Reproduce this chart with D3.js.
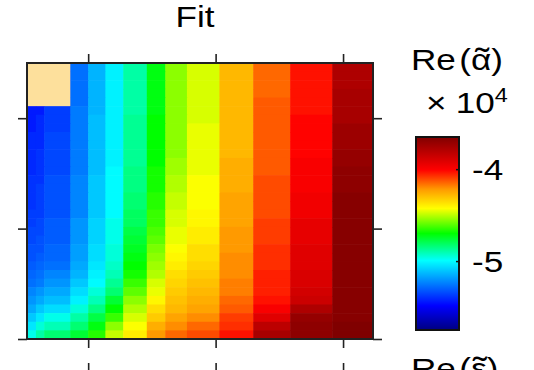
<!DOCTYPE html>
<html>
<head>
<meta charset="utf-8">
<script src="https://cdn.jsdelivr.net/npm/d3@7"></script>
<style>
  body { margin: 0; background: #fff; }
  svg { display: block; font-family: "Liberation Sans", Arial, sans-serif; }
</style>
</head>
<body>
<svg id="chart" width="534" height="370"></svg>
<script>
'use strict';

// x edges of the fit grid (columns are not evenly spaced)
var xEdges = [0.52, 0.59, 0.655, 0.86, 1.0, 1.135, 1.275, 1.46, 1.605, 1.775, 2.03, 2.295, 2.585, 2.915, 3.235];
var yDomain = [1, 3.5];
var xTicks = [1, 2, 3];
var yTicks = [1, 2, 3];

// masked corner (first columns / rows)
var maskCols = 3;
var maskRows = 5;

// colour bar
var cbDomain = [-5.75, -3.65];
var cbTicks = [-5, -4];
var cmapStops = [0, 0.125, 0.36, 0.5, 0.63, 0.73, 0.83, 1];
var cmapColors = ['#000080', '#0000ff', '#00ffff', '#00ff00', '#ffff00', '#ff9900', '#ff0000', '#800000'];

// Re(alpha) x 1e4, rows top -> bottom, one value per column
var rows = [
  [-5.46,-5.46,-5.39,-5.27,-5.14,-5.02,-4.89,-4.72,-4.55,-4.47,-4.28,-4.15,-4.03,-3.78],
  [-5.46,-5.46,-5.39,-5.27,-5.14,-5.02,-4.89,-4.72,-4.55,-4.47,-4.28,-4.15,-4.03,-3.78],
  [-5.46,-5.44,-5.39,-5.27,-5.14,-5.02,-4.89,-4.72,-4.55,-4.47,-4.28,-4.15,-4.03,-3.78],
  [-5.44,-5.44,-5.37,-5.27,-5.14,-5.02,-4.89,-4.72,-4.55,-4.47,-4.28,-4.15,-4.03,-3.76],
  [-5.44,-5.44,-5.37,-5.27,-5.14,-5.02,-4.89,-4.72,-4.55,-4.47,-4.28,-4.13,-4.03,-3.76],
  [-5.44,-5.44,-5.37,-5.25,-5.14,-5.02,-4.89,-4.72,-4.55,-4.47,-4.28,-4.13,-4.03,-3.76],
  [-5.44,-5.41,-5.37,-5.25,-5.12,-5.02,-4.87,-4.70,-4.55,-4.47,-4.28,-4.13,-4.01,-3.76],
  [-5.44,-5.41,-5.37,-5.25,-5.12,-5.02,-4.87,-4.70,-4.55,-4.45,-4.28,-4.13,-4.01,-3.73],
  [-5.41,-5.41,-5.35,-5.25,-5.12,-5.02,-4.87,-4.70,-4.55,-4.45,-4.28,-4.13,-4.01,-3.73],
  [-5.41,-5.41,-5.35,-5.25,-5.12,-5.02,-4.87,-4.70,-4.55,-4.45,-4.28,-4.13,-4.01,-3.73],
  [-5.41,-5.39,-5.35,-5.25,-5.12,-5.02,-4.87,-4.70,-4.55,-4.45,-4.28,-4.13,-4.01,-3.71],
  [-5.41,-5.39,-5.35,-5.25,-5.12,-5.02,-4.87,-4.70,-4.53,-4.45,-4.26,-4.13,-3.99,-3.71],
  [-5.41,-5.39,-5.35,-5.25,-5.12,-5.00,-4.85,-4.68,-4.53,-4.45,-4.26,-4.13,-3.99,-3.69],
  [-5.39,-5.39,-5.33,-5.23,-5.10,-5.00,-4.85,-4.68,-4.51,-4.43,-4.26,-4.11,-3.99,-3.69],
  [-5.39,-5.37,-5.33,-5.23,-5.10,-5.00,-4.85,-4.68,-4.51,-4.43,-4.26,-4.11,-3.99,-3.69],
  [-5.39,-5.37,-5.33,-5.23,-5.10,-5.00,-4.83,-4.66,-4.49,-4.43,-4.24,-4.11,-3.97,-3.67],
  [-5.39,-5.37,-5.33,-5.23,-5.10,-5.00,-4.83,-4.66,-4.49,-4.43,-4.24,-4.11,-3.97,-3.67],
  [-5.37,-5.37,-5.33,-5.23,-5.10,-5.00,-4.81,-4.64,-4.47,-4.41,-4.24,-4.11,-3.97,-3.67],
  [-5.37,-5.35,-5.31,-5.20,-5.08,-4.97,-4.81,-4.64,-4.47,-4.41,-4.24,-4.09,-3.94,-3.67],
  [-5.35,-5.35,-5.31,-5.20,-5.08,-4.97,-4.78,-4.62,-4.45,-4.39,-4.22,-4.09,-3.94,-3.67],
  [-5.35,-5.33,-5.31,-5.20,-5.08,-4.97,-4.76,-4.60,-4.45,-4.39,-4.22,-4.09,-3.94,-3.67],
  [-5.33,-5.33,-5.29,-5.18,-5.06,-4.95,-4.74,-4.57,-4.43,-4.36,-4.22,-4.07,-3.92,-3.67],
  [-5.33,-5.31,-5.29,-5.18,-5.06,-4.95,-4.72,-4.55,-4.41,-4.36,-4.20,-4.07,-3.92,-3.67],
  [-5.31,-5.29,-5.27,-5.16,-5.04,-4.93,-4.70,-4.53,-4.39,-4.34,-4.20,-4.07,-3.92,-3.67],
  [-5.29,-5.27,-5.23,-5.14,-5.02,-4.91,-4.68,-4.51,-4.36,-4.32,-4.20,-4.05,-3.90,-3.67],
  [-5.27,-5.25,-5.20,-5.10,-5.00,-4.87,-4.64,-4.47,-4.34,-4.30,-4.18,-4.05,-3.90,-3.67],
  [-5.23,-5.20,-5.16,-5.06,-4.95,-4.83,-4.60,-4.45,-4.32,-4.28,-4.18,-4.05,-3.88,-3.67],
  [-5.20,-5.16,-5.12,-5.02,-4.91,-4.76,-4.55,-4.41,-4.30,-4.26,-4.15,-4.03,-3.86,-3.67],
  [-5.16,-5.10,-5.06,-4.95,-4.85,-4.70,-4.51,-4.36,-4.28,-4.24,-4.13,-3.99,-3.78,-3.67],
  [-5.10,-5.04,-4.97,-4.89,-4.78,-4.64,-4.47,-4.32,-4.24,-4.20,-4.09,-3.92,-3.71,-3.67],
  [-5.04,-4.95,-4.91,-4.83,-4.72,-4.55,-4.43,-4.26,-4.20,-4.15,-4.07,-3.82,-3.69,-3.65],
  [-4.97,-4.89,-4.83,-4.76,-4.66,-4.49,-4.39,-4.22,-4.15,-4.11,-4.03,-3.76,-3.69,-3.65]
];

var svg = d3.select('#chart');

// plot box
var plot = { left: 27, top: 63, right: 373, bottom: 339 };

var x = d3.scaleLinear().domain([xEdges[0], xEdges[xEdges.length - 1]]).range([plot.left, plot.right]);
var y = d3.scaleLinear().domain(yDomain).range([plot.bottom, plot.top]);
// row index -> data y
var rowY = d3.scaleLinear().domain([0, rows.length]).range([yDomain[1], yDomain[0]]);

var t = d3.scaleLinear().domain(cbDomain).range([0, 1]).clamp(true);
var cmap = d3.scaleLinear().domain(cmapStops).range(cmapColors);
var color = function(v) { return cmap(t(v)); };

// text in the source figure is a bit wider than Liberation Sans
var stretch = 1.17;
function label(px, py, size, str) {
  var g = svg.append('g').attr('transform', 'translate(' + px + ',' + py + ') scale(' + stretch + ',1)');
  var txt = g.append('text').attr('font-size', size).text(str);
  return { g: g, text: txt };
}

// "Re(<sym>)" with a tilde over the symbol
function reLabel(px, py, sym) {
  var lab = label(px, py, 30, 'Re');
  lab.text.append('tspan').attr('dx', 3).text('(' + sym + ')');
  var node = lab.text.node();
  var a = node.getStartPositionOfChar(3).x,
      b = node.getEndPositionOfChar(3).x;
  lab.g.append('text')
    .attr('x', (a + b) / 2 + 1)
    .attr('y', 3)
    .attr('text-anchor', 'middle')
    .attr('font-size', 36)
    .text('\u02DC');
  return lab;
}

// cells
var cells = [];
rows.forEach(function(row, r) {
  row.forEach(function(v, c) {
    cells.push({ r: r, c: c, v: v });
  });
});

svg.append('g').selectAll('rect')
  .data(cells)
  .join('rect')
    .attr('x', function(d) { return x(xEdges[d.c]); })
    .attr('y', function(d) { return y(rowY(d.r)); })
    .attr('width', function(d) { return x(xEdges[d.c + 1]) - x(xEdges[d.c]) + 0.6; })
    .attr('height', function(d) { return y(rowY(d.r + 1)) - y(rowY(d.r)) + 0.6; })
    .attr('fill', function(d) { return color(d.v); });

// masked corner
svg.append('rect')
  .attr('x', x(xEdges[0]))
  .attr('y', y(rowY(0)))
  .attr('width', x(xEdges[maskCols]) - x(xEdges[0]))
  .attr('height', y(rowY(maskRows)) - y(rowY(0)))
  .attr('fill', '#fde09c');

// axes, ticks outward, no labels
var tickLen = 9;
function noLabels(g) { g.selectAll('text').remove(); g.select('.domain').remove(); }

svg.append('g').attr('transform', 'translate(0,' + plot.bottom + ')')
  .call(d3.axisBottom(x).tickValues(xTicks).tickSize(tickLen)).call(noLabels);
svg.append('g').attr('transform', 'translate(0,' + plot.top + ')')
  .call(d3.axisTop(x).tickValues(xTicks).tickSize(tickLen)).call(noLabels);
svg.append('g').attr('transform', 'translate(' + plot.left + ',0)')
  .call(d3.axisLeft(y).tickValues(yTicks).tickSize(tickLen)).call(noLabels);
svg.append('g').attr('transform', 'translate(' + plot.right + ',0)')
  .call(d3.axisRight(y).tickValues(yTicks).tickSize(tickLen)).call(noLabels);

// top ticks of the panel underneath (cut by the window)
svg.append('g').attr('transform', 'translate(0,' + (plot.bottom + 33) + ')')
  .call(d3.axisTop(x).tickValues(xTicks).tickSize(tickLen)).call(noLabels);

svg.selectAll('.tick line').attr('stroke', '#222').attr('stroke-width', 1.6);

svg.append('rect')
  .attr('x', plot.left).attr('y', plot.top)
  .attr('width', plot.right - plot.left).attr('height', plot.bottom - plot.top)
  .attr('fill', 'none').attr('stroke', '#222').attr('stroke-width', 2);

// title
var title = label(195, 27, 30, 'Fit');
title.text.attr('text-anchor', 'middle');

// colour bar
var cb = { left: 416, top: 137, width: 43, height: 193 };
var cbY = d3.scaleLinear().domain(cbDomain).range([cb.top + cb.height, cb.top]);

var grad = svg.append('defs').append('linearGradient')
  .attr('id', 'cbgrad').attr('x1', 0).attr('y1', 1).attr('x2', 0).attr('y2', 0);
grad.selectAll('stop')
  .data(cmapStops)
  .join('stop')
    .attr('offset', function(d) { return d; })
    .attr('stop-color', function(d, i) { return cmapColors[i]; });

svg.append('rect')
  .attr('x', cb.left).attr('y', cb.top)
  .attr('width', cb.width).attr('height', cb.height)
  .attr('fill', 'url(#cbgrad)')
  .attr('stroke', '#111').attr('stroke-width', 2);

var cbAxis = svg.append('g').attr('transform', 'translate(' + (cb.left + cb.width) + ',0)')
  .call(d3.axisRight(cbY).tickValues(cbTicks).tickSize(-3));
cbAxis.select('.domain').remove();
cbAxis.selectAll('text').remove();
cbAxis.selectAll('.tick line').attr('stroke', '#111').attr('stroke-width', 1.5);

cbTicks.forEach(function(v) {
  var l = label(472, cbY(v), 30, '-' + Math.abs(v));
  l.text.attr('dy', '0.36em');
});

// colour bar label
reLabel(411, 70, '\u03B1');

var mult = label(426, 113, 30, '\u00D7');
mult.text.append('tspan').attr('dx', 8).text('10');
mult.text.append('tspan').attr('font-size', 20).attr('dy', -11).text('4');

// label of the next colour bar, cut by the window
reLabel(411, 379, '\u03B5');
</script>
</body>
</html>
